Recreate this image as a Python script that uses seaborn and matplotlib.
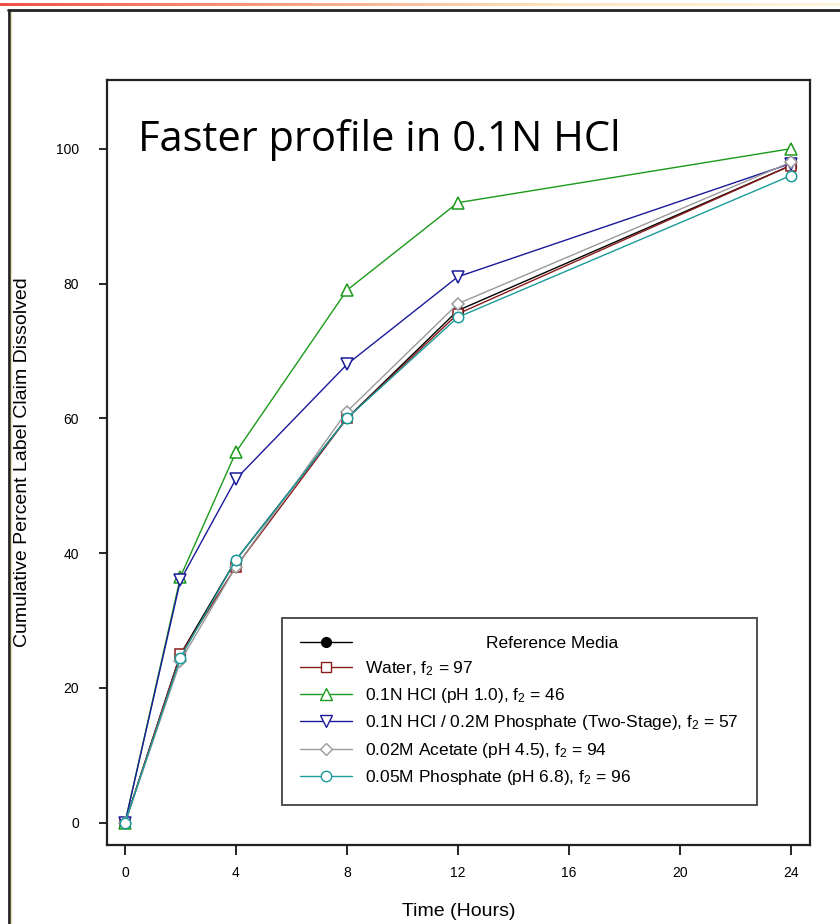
import numpy as np
import pandas as pd
import matplotlib
matplotlib.use("Agg")
import matplotlib.pyplot as plt
from matplotlib.lines import Line2D
from matplotlib.colors import LinearSegmentedColormap
from matplotlib.transforms import Affine2D
import seaborn as sns

# Dissolution data: cumulative % label claim dissolved vs time
hours = [0, 2, 4, 8, 12, 24]
reference_media = [0, 25, 39, 60, 76, 97.5]
water = [0, 25, 38, 60, 75.5, 97.5]
hcl_01n = [0, 36.5, 55, 79, 92, 100]
two_stage = [0, 36, 51, 68, 81, 97.8]
acetate = [0, 24, 38, 61, 77, 98]
phosphate = [0, 24.5, 39, 60, 75, 96]

series_names = ["Reference Media", "Water", "0.1N HCl", "Two-Stage", "Acetate", "Phosphate"]
series_values = [reference_media, water, hcl_01n, two_stage, acetate, phosphate]
legend_labels = [
    "Reference Media",
    r"Water, $\mathregular{f_2}$ = 97",
    r"0.1N HCl (pH 1.0), $\mathregular{f_2}$ = 46",
    r"0.1N HCl / 0.2M Phosphate (Two-Stage), $\mathregular{f_2}$ = 57",
    r"0.02M Acetate (pH 4.5), $\mathregular{f_2}$ = 94",
    r"0.05M Phosphate (pH 6.8), $\mathregular{f_2}$ = 96",
]
x_ticks = [0, 4, 8, 12, 16, 20, 24]
y_ticks = [0, 20, 40, 60, 80, 100]

colors = ["#000000", "#8b1a1a", "#1a9a1a", "#1a1a9a", "#9a9a9a", "#1a9a9a"]
markers = ["o", "s", "^", "v", "D", "o"]
facecolors = ["#000000", "white", "white", "white", "white", "white"]
msizes = [7, 7, 8, 8, 6, 7.5]

df = pd.concat(
    [pd.DataFrame({"Time": hours, "Dissolved": v, "Medium": n}) for n, v in zip(series_names, series_values)],
    ignore_index=True,
)

sns.set_theme(style="white")
plt.rcParams["font.family"] = ["Liberation Sans", "DejaVu Sans"]
plt.rcParams["mathtext.fontset"] = "custom"
plt.rcParams["mathtext.rm"] = "Liberation Sans"
plt.rcParams["text.color"] = "black"
plt.rcParams["axes.labelcolor"] = "black"
plt.rcParams["xtick.color"] = "black"
plt.rcParams["ytick.color"] = "black"

fig = plt.figure(figsize=(8.4, 9.24), dpi=100)
W, H = 840, 924

# slide frame
grad = np.linspace(0, 1, 256)[None, :]
cm = LinearSegmentedColormap.from_list("bar", ["#f0504a", "#f8a080", "#fde6c0", "#fff4dc"])
gax = fig.add_axes([0, 1 - 6 / H, 1, 3 / H])
gax.imshow(grad, aspect="auto", cmap=cm)
gax.axis("off")
fig.add_artist(Line2D([9 / W, 9 / W], [0, 1 - 10 / H], transform=fig.transFigure, color="#222222", lw=2))
fig.add_artist(Line2D([11 / W, 11 / W], [0, 1 - 12 / H], transform=fig.transFigure, color="#e8e4b0", lw=1))
fig.add_artist(Line2D([8 / W, 1], [1 - 10 / H, 1 - 10 / H], transform=fig.transFigure, color="#222222", lw=2))

ax = fig.add_axes([107 / W, 1 - 845 / H, 703 / W, 765 / H])
for name, c, m, fc, ms in zip(series_names, colors, markers, facecolors, msizes):
    sns.lineplot(
        data=df[df["Medium"] == name], x="Time", y="Dissolved", ax=ax,
        color=c, marker=m, markersize=ms, markerfacecolor=fc, markeredgecolor=c,
        markeredgewidth=1.1, lw=1.0, legend=False,
    )

ax.set_xlim(-0.65, 24.7)
ax.set_ylim(-3.3, 110.2)
ax.set_xticks(x_ticks)
ax.set_yticks(y_ticks)
ax.tick_params(axis="both", direction="out", length=7, width=1.2, color="black",
               labelsize=10, bottom=True, left=True)
ax.tick_params(axis="x", pad=8)
ax.tick_params(axis="y", pad=14, length=6)
for s in ax.spines.values():
    s.set_color("#222222")
    s.set_linewidth(1.6)
ax.set_xlabel("Time (Hours)", fontsize=14, labelpad=17)
ax.set_ylabel("Cumulative Percent Label Claim Dissolved", fontsize=14, labelpad=18)

ax.text(0.45, 99.6, "Faster profile in 0.1N HCl", fontsize=30, family=["Open Sans", "DejaVu Sans"],
        va="baseline", ha="left", color="black")

handles = [
    Line2D([0], [0], color=c, marker=m, markersize=ms, markerfacecolor=fc, markeredgecolor=c, lw=1.0)
    for c, m, fc, ms in zip(colors, markers, facecolors, msizes)
]
leg = ax.legend(handles, legend_labels, loc="lower left", bbox_to_anchor=((282 - 107) / 703, (845 - 805) / 765),
                fontsize=12.5, frameon=True, fancybox=False, edgecolor="#222222", handlelength=3.0,
                labelspacing=0.47, borderpad=1.05, handletextpad=0.75, borderaxespad=0)
leg.get_frame().set_linewidth(1.4)

# center the header row over the label column
fig.canvas.draw()
texts = leg.get_texts()
widths = [t.get_window_extent().width for t in texts]
dx = (max(widths) - widths[0]) / 2
texts[0].set_transform(texts[0].get_transform() + Affine2D().translate(dx, 0))

fig.savefig("out.png", dpi=100)
